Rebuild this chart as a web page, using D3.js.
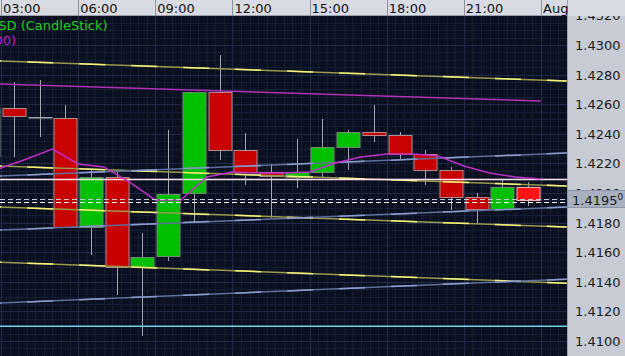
<!DOCTYPE html>
<html>
<head>
<meta charset="utf-8">
<script src="https://cdn.jsdelivr.net/npm/d3@7"></script>
<style>
  html, body { margin: 0; padding: 0; background: #0b1020; }
  svg { display: block; }
  text { font-family: "DejaVu Sans", sans-serif; font-size: 13px; }
</style>
</head>
<body>
<svg id="chart" width="625" height="356"></svg>
<script>
'use strict';

// candle open hours (Jul 31), one hourly bar each
var candleHours = [2, 3, 4, 5, 6, 7, 8, 9, 10, 11, 12, 13, 14, 15, 16, 17, 18, 19, 20, 21, 22, 23];
var opens  = [1.42250, 1.42574, 1.42514, 1.42507, 1.41770, 1.42108, 1.41500, 1.41574, 1.42000, 1.42682, 1.42291,
              1.42142, 1.42108, 1.42142, 1.42311, 1.42412, 1.42392, 1.42264, 1.42155, 1.41973, 1.41892, 1.42041];
var highs  = [1.42600, 1.42750, 1.42764, 1.42595, 1.42155, 1.42155, 1.41730, 1.42426, 1.42682, 1.42932, 1.42405,
              1.42196, 1.42365, 1.42500, 1.42426, 1.42595, 1.42412, 1.42291, 1.42176, 1.42000, 1.42088, 1.42074];
var lows   = [1.42200, 1.42243, 1.42378, 1.41770, 1.41581, 1.41311, 1.41034, 1.41541, 1.41797, 1.42223, 1.42054,
              1.41831, 1.42034, 1.42108, 1.42155, 1.42345, 1.42230, 1.42054, 1.41885, 1.41797, 1.41892, 1.41912];
var closes = [1.42574, 1.42520, 1.42514, 1.41770, 1.42108, 1.41500, 1.41568, 1.41993, 1.42682, 1.42291, 1.42142,
              1.42115, 1.42142, 1.42311, 1.42412, 1.42392, 1.42264, 1.42155, 1.41973, 1.41892, 1.42041, 1.41950];

// moving average, plotted at bar open times
var maHours  = [2, 3, 4, 5, 6, 7, 8, 9, 10, 11, 12, 13, 14, 15, 16, 17, 18, 19, 20, 21, 22, 23, 24];
var maValues = [1.42122, 1.42169, 1.42230, 1.42297, 1.42196, 1.42176, 1.42074, 1.41953, 1.41953, 1.42108, 1.42142,
                1.42135, 1.42135, 1.42142, 1.42203, 1.42243, 1.42264, 1.42264, 1.42250, 1.42182, 1.42135, 1.42108, 1.42095];

// channel lines: [startHour, startPrice, endHour, endPrice]
var yellowLines = [
    [2, 1.42898, 25, 1.42757],
    [2, 1.42188, 25, 1.42047],
    [2, 1.41911, 25, 1.41770],
    [2, 1.41539, 25, 1.41391]
];
var blueLines = [
    [2, 1.42108, 25, 1.42270],
    [2, 1.41743, 25, 1.41905],
    [2, 1.41249, 25, 1.41418]
];
var magentaLines = [
    [2, 1.42742, 24, 1.42621]
];

var levelCyan = 1.4110;
var levelPink = 1.42091;
var bidPrice = 1.41940;
var askPrice = 1.41958;
var lastPrice = '1.4195';

var timeTickHours = [3, 6, 9, 12, 15, 18, 21, 24];
var timeTickLabels = ['03:00', '06:00', '09:00', '12:00', '15:00', '18:00', '21:00', 'Aug'];
var priceTicks = [1.4100, 1.4120, 1.4140, 1.4160, 1.4180, 1.4200, 1.4220, 1.4240, 1.4260, 1.4280, 1.4300, 1.4320];

var W = 625, H = 356,
    plotRight = 567,
    topBar = 16;

var day0 = Date.UTC(2009, 6, 31);
function hourDate(h) { return new Date(day0 + h * 3600000); }

var x = d3.scaleUtc()
    .domain([hourDate(3), hourDate(24)])
    .range([1, 541]);
var y = d3.scaleLinear()
    .domain([1.4100, 1.4300])
    .range([341, 45]);

var hourW = x(hourDate(4)) - x(hourDate(3)),
    bodyW = 23;

var svg = d3.select('#chart');

svg.append('defs').append('clipPath')
    .attr('id', 'plotclip')
    .append('rect')
    .attr('x', 0).attr('y', topBar)
    .attr('width', plotRight).attr('height', H - topBar);

// plot background + grid
svg.append('rect')
    .attr('x', 0).attr('y', 0).attr('width', plotRight).attr('height', H)
    .attr('fill', '#0b1020');

var grid = svg.append('g').attr('clip-path', 'url(#plotclip)');

var minorY = d3.range(1.4040, 1.4360, 0.0005);
grid.selectAll('.gy')
    .data(minorY)
    .enter().append('line')
    .attr('x1', 0).attr('x2', plotRight)
    .attr('y1', function(d) { return Math.round(y(d)) + 0.5; })
    .attr('y2', function(d) { return Math.round(y(d)) + 0.5; })
    .attr('stroke', '#151d34');

var minorX = d3.utcMinute.every(20).range(hourDate(2), hourDate(26));
grid.selectAll('.gx')
    .data(minorX)
    .enter().append('line')
    .attr('x1', function(d) { return Math.round(x(d)) + 0.5; })
    .attr('x2', function(d) { return Math.round(x(d)) + 0.5; })
    .attr('y1', topBar).attr('y2', H)
    .attr('stroke', '#151d34');

grid.selectAll('.gmy')
    .data(priceTicks)
    .enter().append('line')
    .attr('x1', 0).attr('x2', plotRight)
    .attr('y1', function(d) { return Math.round(y(d)) + 0.5; })
    .attr('y2', function(d) { return Math.round(y(d)) + 0.5; })
    .attr('stroke', '#1f2947');

grid.selectAll('.gmx')
    .data(timeTickHours)
    .enter().append('line')
    .attr('x1', function(d) { return Math.round(x(hourDate(d))) + 0.5; })
    .attr('x2', function(d) { return Math.round(x(hourDate(d))) + 0.5; })
    .attr('y1', topBar).attr('y2', H)
    .attr('stroke', '#222c4a');

// candles
var candles = candleHours.map(function(h, i) {
    return {t: hourDate(h), o: opens[i], h: highs[i], l: lows[i], c: closes[i], last: i === candleHours.length - 1};
});

var plot = svg.append('g').attr('clip-path', 'url(#plotclip)');

function cx(d) { return Math.round(x(d.t) + hourW / 2) + 0.5; }

plot.selectAll('.wick')
    .data(candles)
    .enter().append('line')
    .attr('x1', cx).attr('x2', cx)
    .attr('y1', function(d) { return y(d.h); })
    .attr('y2', function(d) { return y(d.l); })
    .attr('stroke', '#a4a6b0');

plot.selectAll('.body')
    .data(candles)
    .enter().append('rect')
    .attr('x', function(d) { return cx(d) - bodyW / 2; })
    .attr('y', function(d) { return Math.round(y(Math.max(d.o, d.c))) + 0.5; })
    .attr('width', bodyW)
    .attr('height', function(d) { return Math.max(0.5, Math.round(y(Math.min(d.o, d.c)) - y(Math.max(d.o, d.c)))); })
    .attr('fill', function(d) {
        if(d.c === d.o) return '#a4a6b0';
        if(d.last) return '#ff1414';
        return d.c > d.o ? '#00c000' : '#c80000';
    })
    .attr('stroke', function(d) {
        if(d.c === d.o) return '#a4a6b0';
        if(d.last) return '#ffb0b0';
        return d.c > d.o ? '#708a70' : '#b08c8c';
    })
    .attr('stroke-width', 1);

// indicator lines
var over = svg.append('g').attr('clip-path', 'url(#plotclip)');

function seg(sel, rows, color) {
    return sel.selectAll(null)
        .data(rows)
        .enter().append('line')
        .attr('x1', function(d) { return x(hourDate(d[0])); })
        .attr('y1', function(d) { return y(d[1]); })
        .attr('x2', function(d) { return x(hourDate(d[2])); })
        .attr('y2', function(d) { return y(d[3]); })
        .attr('stroke', color)
        .attr('stroke-width', 1.5);
}

seg(over, yellowLines, '#9a9a4c');
seg(over, yellowLines, '#f2f07a').attr('stroke-dasharray', '26,26');
seg(over, blueLines, '#5f6f9c');
seg(over, blueLines, '#8a9acc').attr('stroke-dasharray', '26,26');
seg(over, magentaLines, '#b030b8');

over.append('line')
    .attr('x1', 0).attr('x2', plotRight)
    .attr('y1', y(levelCyan)).attr('y2', y(levelCyan))
    .attr('stroke', '#6cd4e6').attr('stroke-width', 1.5);

over.append('line')
    .attr('x1', 0).attr('x2', plotRight)
    .attr('y1', y(levelPink)).attr('y2', y(levelPink))
    .attr('stroke', '#ffe2ee').attr('stroke-width', 1.5);

var maLine = d3.line()
    .x(function(d) { return x(hourDate(d[0])); })
    .y(function(d) { return y(d[1]); });

over.append('path')
    .datum(d3.zip(maHours, maValues))
    .attr('d', maLine)
    .attr('fill', 'none')
    .attr('stroke', '#c030c8')
    .attr('stroke-width', 1.5);

over.append('line')
    .attr('x1', 0).attr('x2', plotRight)
    .attr('y1', Math.round(y(askPrice)) + 0.5).attr('y2', Math.round(y(askPrice)) + 0.5)
    .attr('stroke', '#c8ccd8').attr('stroke-dasharray', '5,3');

over.append('line')
    .attr('x1', 0).attr('x2', plotRight)
    .attr('y1', Math.round(y(bidPrice)) + 0.5).attr('y2', Math.round(y(bidPrice)) + 0.5)
    .attr('stroke', '#ffffff').attr('stroke-dasharray', '5,3');

// legend
over.append('text')
    .attr('x', -38).attr('y', 30)
    .attr('fill', '#22d022')
    .text('EURUSD (CandleStick)');

over.append('text')
    .attr('x', 16).attr('y', 45)
    .attr('text-anchor', 'end')
    .attr('fill', '#c020c8')
    .text('SMA(100)');

// right price axis
var axisG = svg.append('g');
axisG.append('rect')
    .attr('x', plotRight).attr('y', 0)
    .attr('width', W - plotRight).attr('height', H)
    .attr('fill', '#c6cbd4');
axisG.append('line')
    .attr('x1', plotRight + 0.5).attr('x2', plotRight + 0.5)
    .attr('y1', 0).attr('y2', H)
    .attr('stroke', '#9aa0ac');

axisG.selectAll('.ylab')
    .data(priceTicks)
    .enter().append('text')
    .attr('x', 575)
    .attr('y', function(d) { return y(d) + 5; })
    .attr('fill', '#1c1c1c')
    .text(function(d) { return d.toFixed(4); });

var box = axisG.append('g');
box.append('rect')
    .attr('x', plotRight + 0.5).attr('y', Math.round(y(1.41950)) - 9.5)
    .attr('width', W - plotRight).attr('height', 17)
    .attr('fill', '#a8b0c0')
    .attr('stroke', '#8c94a6');
var boxText = box.append('text')
    .attr('x', 572).attr('y', y(1.41950) + 5)
    .attr('fill', '#1c1c1c')
    .text(lastPrice);
boxText.append('tspan')
    .attr('dy', -5)
    .attr('font-size', '9px')
    .text('0');

// top time bar
var topG = svg.append('g');
topG.append('rect')
    .attr('x', 0).attr('y', 0)
    .attr('width', W).attr('height', topBar)
    .attr('fill', '#d8dbe2');
topG.append('line')
    .attr('x1', 0).attr('x2', plotRight)
    .attr('y1', topBar - 0.5).attr('y2', topBar - 0.5)
    .attr('stroke', '#9aa0ac');
topG.append('line')
    .attr('x1', plotRight + 0.5).attr('x2', plotRight + 0.5)
    .attr('y1', 0).attr('y2', topBar)
    .attr('stroke', '#9aa0ac');

topG.selectAll('.tsep')
    .data(timeTickHours)
    .enter().append('line')
    .attr('x1', function(d) { return Math.round(x(hourDate(d))) + 0.5; })
    .attr('x2', function(d) { return Math.round(x(hourDate(d))) + 0.5; })
    .attr('y1', 0).attr('y2', topBar)
    .attr('stroke', '#8c92a0');

topG.selectAll('.tlab')
    .data(timeTickHours)
    .enter().append('text')
    .attr('x', function(d) { return x(hourDate(d)) + 2; })
    .attr('y', 13)
    .attr('fill', '#111')
    .text(function(d, i) { return timeTickLabels[i]; });
</script>
</body>
</html>
